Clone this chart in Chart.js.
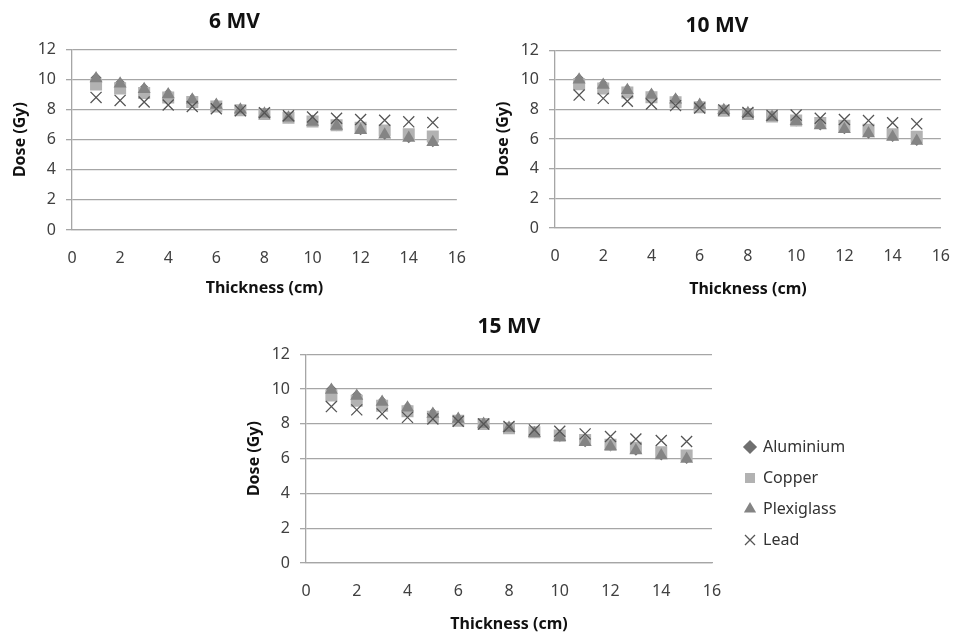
<!DOCTYPE html>
<html>
<head>
<meta charset="utf-8">
<script src="https://cdn.jsdelivr.net/npm/chart.js@4"></script>
<style>
  html, body { margin: 0; padding: 0; background: #fff; width: 955px; height: 639px; overflow: hidden; }
  .box { position: absolute; }
</style>
</head>
<body>
<div class="box" style="left:9px;top:0px"><canvas id="c6" width="476" height="300"></canvas></div>
<div class="box" style="left:492px;top:0px"><canvas id="c10" width="477" height="301"></canvas></div>
<div class="box" style="left:243px;top:305px"><canvas id="c15" width="637" height="331"></canvas></div>
<script>
  // Thickness of the attenuator (cm)
  const thickness = [1, 2, 3, 4, 5, 6, 7, 8, 9, 10, 11, 12, 13, 14, 15];
  const materials = ['Aluminium', 'Copper', 'Plexiglass', 'Lead'];

  // Dose (Gy), one array per material and energy
  const alu6  = [10.1, 9.75, 9.4, 9.05, 8.7, 8.35, 8.0, 7.75, 7.45, 7.2, 6.92, 6.65, 6.35, 6.12, 5.85];
  const cu6   = [9.65, 9.4, 9.1, 8.8, 8.5, 8.2, 7.95, 7.7, 7.45, 7.2, 6.95, 6.78, 6.6, 6.35, 6.2];
  const plex6 = [10.05, 9.7, 9.35, 9.0, 8.65, 8.3, 7.98, 7.72, 7.45, 7.17, 6.9, 6.62, 6.32, 6.1, 5.82];
  const lead6 = [8.8, 8.6, 8.5, 8.3, 8.2, 8.05, 7.92, 7.78, 7.58, 7.5, 7.42, 7.33, 7.28, 7.18, 7.13];

  const alu10  = [10.05, 9.7, 9.35, 9.02, 8.7, 8.32, 8.0, 7.77, 7.52, 7.22, 6.95, 6.7, 6.4, 6.17, 5.9];
  const cu10   = [9.7, 9.42, 9.15, 8.82, 8.48, 8.15, 7.92, 7.7, 7.52, 7.25, 7.08, 6.9, 6.63, 6.32, 6.15];
  const plex10 = [10.0, 9.65, 9.3, 8.98, 8.65, 8.3, 7.95, 7.75, 7.5, 7.2, 6.92, 6.67, 6.38, 6.14, 5.88];
  const lead10 = [8.97, 8.75, 8.55, 8.37, 8.26, 8.1, 7.97, 7.79, 7.6, 7.62, 7.41, 7.32, 7.25, 7.1, 7.03];

  const alu15  = [9.98, 9.64, 9.28, 8.95, 8.6, 8.3, 8.01, 7.78, 7.48, 7.25, 6.97, 6.72, 6.48, 6.2, 6.0];
  const cu15   = [9.62, 9.33, 9.04, 8.72, 8.41, 8.18, 7.99, 7.74, 7.51, 7.32, 7.07, 6.8, 6.62, 6.37, 6.18];
  const plex15 = [9.94, 9.6, 9.25, 8.92, 8.57, 8.28, 7.99, 7.76, 7.45, 7.22, 6.94, 6.69, 6.46, 6.18, 5.98];
  const lead15 = [8.99, 8.8, 8.57, 8.37, 8.28, 8.15, 7.99, 7.84, 7.65, 7.57, 7.42, 7.27, 7.13, 7.04, 6.98];

  const FONT = '"Noto Sans", "DejaVu Sans", sans-serif';
  const gridColor = '#a6a6a6';

  function points(ys) {
    return thickness.map((x, i) => ({ x: x, y: ys[i] }));
  }

  // marker look per material, Lead drawn on top (lowest order)
  function datasets(alu, cu, plex, lead) {
    return [
      { label: materials[0], data: points(alu), pointStyle: 'rectRot', pointRadius: 5.5,
        backgroundColor: '#6f6f6f', borderColor: '#6f6f6f', pointBorderWidth: 0, order: 4 },
      { label: materials[1], data: points(cu), pointStyle: 'rect', pointRadius: 8.5,
        backgroundColor: '#b2b2b2', borderColor: '#b2b2b2', pointBorderWidth: 0, order: 3 },
      { label: materials[2], data: points(plex), pointStyle: 'triangle', pointRadius: 7.5,
        backgroundColor: '#848484', borderColor: '#848484', pointBorderWidth: 0, order: 2 },
      { label: materials[3], data: points(lead), pointStyle: 'crossRot', pointRadius: 7.8,
        backgroundColor: '#555555', borderColor: '#555555', borderWidth: 1.3, pointBorderWidth: 1.3, order: 1 }
    ];
  }

  // width the legend will take, so the plot of the last chart ends where it should
  const mctx = document.createElement('canvas').getContext('2d');
  mctx.font = '16px ' + FONT;
  const legendW = Math.ceil(15 + 10 + 8 + Math.max(...materials.map(m => mctx.measureText(m).width))) + 1;

  function makeChart(id, title, ds, geo) {
    const scales = {
      x: {
        type: 'linear', min: 0, max: 16,
        grid: { display: false, drawTicks: false },
        border: { display: true, color: gridColor, width: 1.3 },
        ticks: { stepSize: 2, padding: 19, color: '#404040', font: { family: FONT, size: 16 } },
        title: { display: true, text: 'Thickness (cm)', color: '#111', padding: { top: 0, bottom: 2 },
          font: { family: FONT, size: 16, weight: 'bold' } },
        afterFit: (s) => { s.height = geo.xh; }
      },
      y: {
        min: 0, max: 12,
        grid: { color: gridColor, lineWidth: 1.3, tickLength: 6 },
        border: { display: true, color: gridColor, width: 1.3 },
        ticks: { stepSize: 2, padding: 10, color: '#404040', font: { family: FONT, size: 16 } },
        title: { display: true, text: 'Dose (Gy)', color: '#111', padding: { top: 2, bottom: 0 },
          font: { family: FONT, size: 16, weight: 'bold' } },
        afterFit: (s) => { s.width = 63; }
      }
    };
    if (geo.legend) {
      // empty spacer on the right keeps the legend off the plot
      scales.y2 = {
        type: 'linear', position: 'right', display: true,
        grid: { display: false }, border: { display: false }, ticks: { display: false },
        afterFit: (s) => { s.width = 18; }
      };
    }
    return new Chart(document.getElementById(id), {
      type: 'scatter',
      data: { datasets: ds },
      options: {
        responsive: false,
        animation: false,
        devicePixelRatio: 1,
        layout: { padding: { left: 0, top: 0, bottom: 0, right: geo.padRight } },
        scales: scales,
        plugins: {
          title: {
            display: true, text: title, color: '#111', fullSize: geo.titleFull,
            font: { family: FONT, size: 21, weight: 'bold' },
            padding: { top: geo.tTop, bottom: geo.tBottom }
          },
          legend: geo.legend ? {
            display: true, position: 'right', align: 'end', fullSize: false, maxWidth: legendW,
            labels: { usePointStyle: true, boxWidth: 10, boxHeight: 10, padding: 15,
              sort: (a, b) => a.datasetIndex - b.datasetIndex,
              color: '#333', font: { family: FONT, size: 16 } }
          } : { display: false },
          tooltip: { enabled: false }
        }
      }
    });
  }

  makeChart('c6', '6 MV', datasets(alu6, cu6, plex6, lead6),
    { xh: 70, padRight: 25, tTop: 9, tBottom: 15, titleFull: true, legend: false });
  makeChart('c10', '10 MV', datasets(alu10, cu10, plex10, lead10),
    { xh: 73, padRight: 27, tTop: 13, tBottom: 12, titleFull: true, legend: false });
  makeChart('c15', '15 MV', datasets(alu15, cu15, plex15, lead15),
    { xh: 73, padRight: 637 - 469 - 18 - legendW, tTop: 9, tBottom: 15, titleFull: false, legend: true });
</script>
</body>
</html>
